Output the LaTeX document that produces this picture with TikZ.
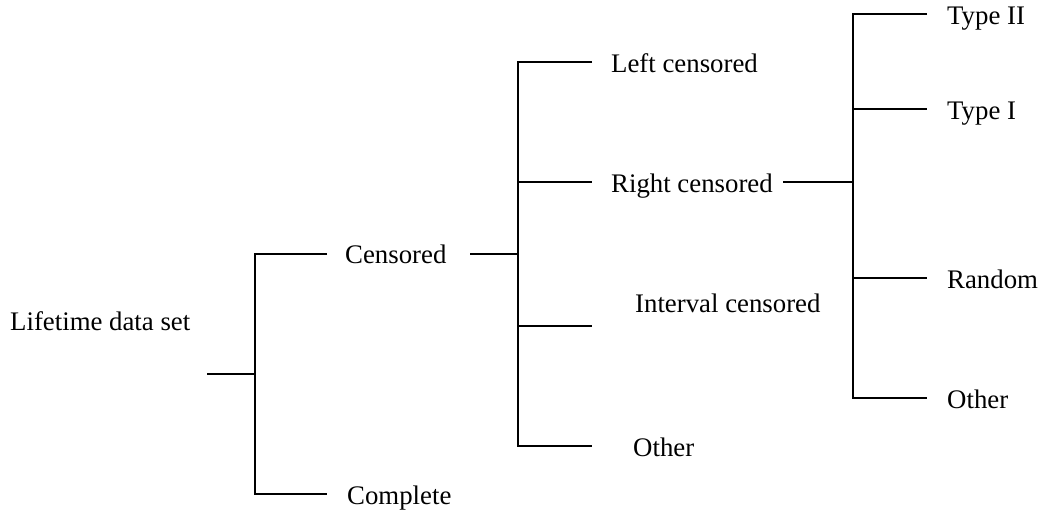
\documentclass[tikz,border=0pt]{standalone}
\usepackage{fontspec}
\setmainfont{Liberation Serif}
\begin{document}
\begin{tikzpicture}[x=1pt,y=-1pt,
  link/.style={draw=black,line width=1.7pt},
  lbl/.style={anchor=base west,inner sep=0pt,font=\fontsize{26.8}{32}\selectfont}]
\useasboundingbox (0,0) rectangle (1040,515);

% labels
\node[lbl] (root)  at (10,330)  {Lifetime data set};
\node[lbl] (cens)  at (345,263) {Censored};
\node[lbl] (comp)  at (347,504) {Complete};
\node[lbl] (left)  at (611,72)  {Left censored};
\node[lbl] (right) at (611,192) {Right censored};
\node[lbl] (intv)  at (635,312) {Interval censored};
\node[lbl] (oth1)  at (633,456) {Other};
\node[lbl] (t2)    at (947,24)  {Type II};
\node[lbl] (t1)    at (947,119) {Type I};
\node[lbl] (rand)  at (947,288) {Random};
\node[lbl] (oth2)  at (947,408) {Other};

% junction points of the three brackets
\coordinate (rs) at (207,374);
\coordinate (j1) at (255,374);
\coordinate (j1a) at (255,254);
\coordinate (j1b) at (255,494);
\coordinate (e1a) at (327,254);
\coordinate (e1b) at (327,494);

\coordinate (cs) at (470,254);
\coordinate (j2) at (518,254);
\coordinate (j2a) at (518,62);
\coordinate (j2b) at (518,182);
\coordinate (j2c) at (518,326);
\coordinate (j2d) at (518,446);
\coordinate (e2a) at (592,62);
\coordinate (e2b) at (592,182);
\coordinate (e2c) at (592,326);
\coordinate (e2d) at (592,446);

\coordinate (ss) at (783,182);
\coordinate (j3) at (853,182);
\coordinate (j3a) at (853,14);
\coordinate (j3b) at (853,109);
\coordinate (j3c) at (853,278);
\coordinate (j3d) at (853,398);
\coordinate (e3a) at (927,14);
\coordinate (e3b) at (927,109);
\coordinate (e3c) at (927,278);
\coordinate (e3d) at (927,398);

% first bracket: lifetime data set
\draw[link] (rs) -- (j1);
\draw[link] (e1a) -- (j1a) -- (j1b) -- (e1b);

% second bracket: censored
\draw[link] (cs) -- (j2);
\draw[link] (e2a) -- (j2a) -- (j2d) -- (e2d);
\draw[link] (j2b) -- (e2b);
\draw[link] (j2c) -- (e2c);

% third bracket: right censored
\draw[link] (ss) -- (j3);
\draw[link] (e3a) -- (j3a) -- (j3d) -- (e3d);
\draw[link] (j3b) -- (e3b);
\draw[link] (j3c) -- (e3c);
\end{tikzpicture}
\end{document}
